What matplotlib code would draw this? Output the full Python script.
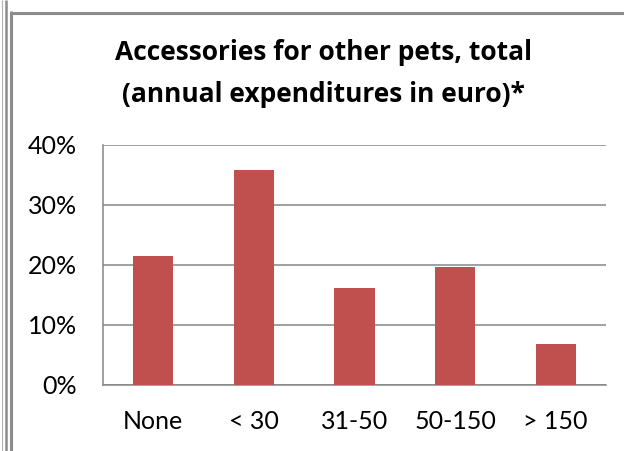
import matplotlib
matplotlib.use("Agg")
import matplotlib.pyplot as plt
from matplotlib.lines import Line2D
from matplotlib.ticker import PercentFormatter

categories = ["None", "< 30", "31-50", "50-150", "> 150"]
shares = [21.5, 35.9, 16.2, 19.6, 6.8]
yticks = [0, 10, 20, 30, 40]
title_lines = ["Accessories for other pets, total", "(annual expenditures in euro)*"]

W, H = 624, 451
plt.rcParams['font.family'] = ['Lato', 'DejaVu Sans']

fig = plt.figure(figsize=(W / 100, H / 100), dpi=100)
fig.patch.set_facecolor("white")

# frame lines around the chart (pixel coords -> figure fraction)
def px_line(x0, y0, x1, y1, lw, color):
    fig.add_artist(Line2D([x0 / W, x1 / W], [1 - y0 / H, 1 - y1 / H],
                          lw=lw, color=color, solid_capstyle="butt"))

px_line(2, 0, 2, H, 0.8, "#b0b0b0")
px_line(5.5, 0, 5.5, H, 1.8, "#8c8c8c")
px_line(10.5, 11, 10.5, H, 2.2, "#8c8c8c")
px_line(9.5, 12.5, W, 12.5, 2.2, "#8c8c8c")

ax = fig.add_axes([103 / W, (H - 385) / H, 503 / W, 240 / H])
ax.bar(range(len(categories)), shares, width=0.4, color="#C0504D", zorder=3)

ax.set_xlim(-0.5, len(categories) - 0.5)
ax.set_ylim(0, 40)
ax.set_yticks(yticks)
ax.yaxis.set_major_formatter(PercentFormatter(decimals=0))
ax.set_xticks(range(len(categories)))
ax.set_xticklabels(categories)
ax.tick_params(axis="both", length=0, labelsize=18, colors="black")
ax.tick_params(axis="y", pad=19)
ax.tick_params(axis="x", pad=18)

ax.grid(axis="y", color="#868686", lw=1.1, zorder=0)
for s in ["top", "right"]:
    ax.spines[s].set_visible(False)
for s in ["left", "bottom"]:
    ax.spines[s].set_color("#868686")
    ax.spines[s].set_linewidth(1.1)

for line, ypx in zip(title_lines, [53, 95]):
    fig.text(323 / W, 1 - ypx / H, line, ha="center", va="center",
             fontsize=19, fontweight="bold", family=["Open Sans", "DejaVu Sans"])

fig.savefig("out.png", dpi=100)
